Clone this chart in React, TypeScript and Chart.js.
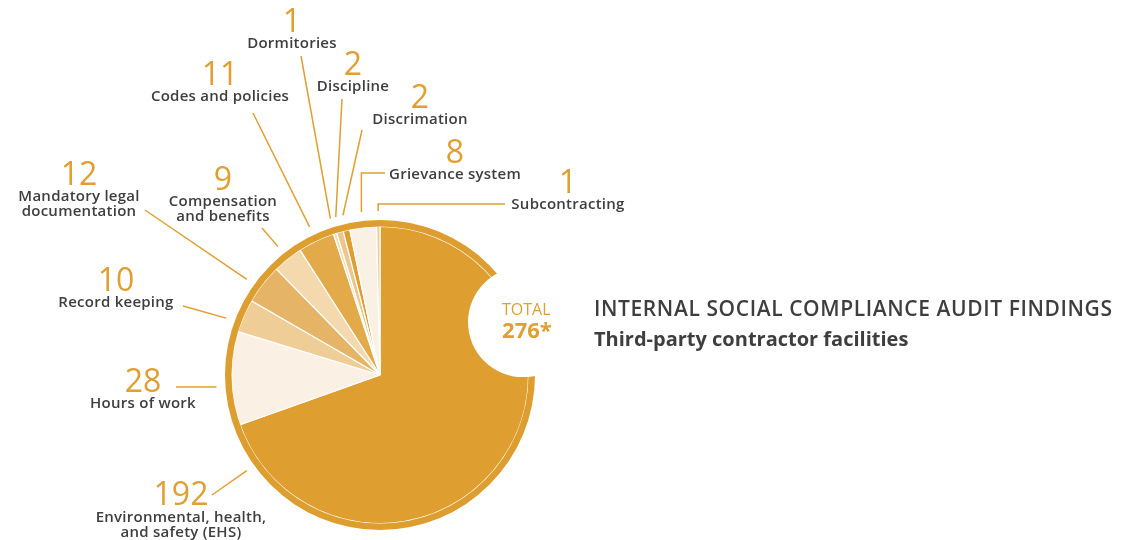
import { useEffect, useRef } from "react";
import { Chart, registerables } from "chart.js";

Chart.register(...registerables);

// ---- data ----
const categories = [
  "Environmental, health, and safety (EHS)",
  "Hours of work",
  "Record keeping",
  "Mandatory legal documentation",
  "Compensation and benefits",
  "Codes and policies",
  "Dormitories",
  "Discipline",
  "Discrimation",
  "Grievance system",
  "Subcontracting",
];
const labelLines = [
  ["Environmental, health,", "and safety (EHS)"],
  ["Hours of work"],
  ["Record keeping"],
  ["Mandatory legal", "documentation"],
  ["Compensation", "and benefits"],
  ["Codes and policies"],
  ["Dormitories"],
  ["Discipline"],
  ["Discrimation"],
  ["Grievance system"],
  ["Subcontracting"],
];
const findings = [192, 28, 10, 12, 9, 11, 1, 2, 2, 8, 1];
const totalCaption = "TOTAL";
const totalSuffix = "*";
const titleLine1 = "INTERNAL SOCIAL COMPLIANCE AUDIT FINDINGS";
const titleLine2 = "Third-party contractor facilities";

// ---- styles ----
const sliceColors = [
  "#DF9E30",
  "#FAF0E4",
  "#EECD97",
  "#E5B466",
  "#F3D9AD",
  "#E3AA4A",
  "#F2DEBB",
  "#EBC68D",
  "#DF9E30",
  "#FAF1E5",
  "#EDCB96",
];
const ringColor = "#DE9D2F";
const accent = "#E09F30";
const textColor = "#3E3E3E";
const FONT = "'Open Sans', 'Noto Sans', sans-serif";

// ---- annotation layout (label anchor, leader start, optional leader angle in degrees clockwise from north) ----
const labelLayout = [
  { x: 181, y: 505, out: [212, 495], angle: 234.3, gap: 17 },
  { x: 143, y: 392, out: [176, 387], angle: 265.8 },
  { x: 116, y: 291, out: [183, 306], angle: 290.3 },
  { x: 79, y: 185, out: [145, 210], angle: 305.7 },
  { x: 223, y: 190, out: [262, 228] },
  { x: 220, y: 85, out: [253, 113] },
  { x: 292, y: 32, out: [301, 56] },
  { x: 353, y: 75, out: [342, 99] },
  { x: 420, y: 108, out: [362, 130] },
  { x: 455, y: 163, out: [385, 173], elbow: true },
  { x: 568, y: 193, out: [505, 204], elbow: true },
];

const annotationPlugin = {
  id: "annotations",
  afterDatasetsDraw(chart: any) {
    const ctx = chart.ctx as any;
    const ring = chart.getDatasetMeta(0).data[0] as any;
    const arcs = chart.getDatasetMeta(1).data as any[];
    const cx = ring.x;
    const cy = ring.y;
    const R = ring.outerRadius;
    ctx.save();

    // white bite with total
    const ba = ((69.7 - 90) * Math.PI) / 180;
    const bx = cx + R * 0.984 * Math.cos(ba);
    const by = cy + R * 0.984 * Math.sin(ba);
    ctx.fillStyle = "#ffffff";
    ctx.beginPath();
    ctx.arc(bx, by, R * 0.355, 0, Math.PI * 2);
    ctx.fill();

    const total = findings.reduce((a, b) => a + b, 0);
    ctx.fillStyle = accent;
    ctx.textAlign = "left";
    ctx.textBaseline = "alphabetic";
    ctx.font = `400 16px ${FONT}`;
    ctx.fillText(totalCaption, bx - 21, by - 7);
    ctx.font = `700 22px ${FONT}`;
    ctx.fillText(String(total) + totalSuffix, bx - 21, by + 16);

    // leader lines and labels
    ctx.strokeStyle = accent;
    ctx.lineWidth = 1.5;
    arcs.forEach((arc, i) => {
      const L = labelLayout[i];
      const ang =
        L.angle != null
          ? ((L.angle - 90) * Math.PI) / 180
          : (arc.startAngle + arc.endAngle) / 2;
      const r = R + 9;
      const ix = cx + r * Math.cos(ang);
      const iy = cy + r * Math.sin(ang);
      ctx.beginPath();
      ctx.moveTo(L.out[0], L.out[1]);
      if (L.elbow) ctx.lineTo(ix, L.out[1]);
      ctx.lineTo(ix, iy);
      ctx.stroke();

      ctx.textAlign = "center";
      ctx.fillStyle = accent;
      ctx.letterSpacing = "0px";
      ctx.font = `400 32px ${FONT}`;
      ctx.fillText(String(findings[i]), L.x, L.y);
      ctx.fillStyle = textColor;
      ctx.font = `600 15px ${FONT}`;
      ctx.letterSpacing = "0.25px";
      const g = L.gap ?? 16;
      labelLines[i].forEach((line, k) => {
        ctx.fillText(line, L.x, L.y + g + k * 15);
      });
      ctx.letterSpacing = "0px";
    });

    // title
    ctx.textAlign = "left";
    ctx.fillStyle = textColor;
    ctx.font = `600 21px ${FONT}`;
    ctx.letterSpacing = "0.6px";
    ctx.fillText(titleLine1, 594, 316);
    ctx.letterSpacing = "0px";
    ctx.font = `700 20px ${FONT}`;
    ctx.fillText(titleLine2, 594, 346);
    ctx.restore();
  },
};

export default function App() {
  const canvasRef = useRef<HTMLCanvasElement | null>(null);

  useEffect(() => {
    const canvas = canvasRef.current;
    if (!canvas) return;
    const total = findings.reduce((a, b) => a + b, 0);
    const chart = new Chart(canvas, {
      type: "pie",
      data: {
        labels: categories,
        datasets: [
          {
            label: "ring",
            data: [total],
            backgroundColor: [ringColor],
            borderWidth: 0,
            hoverOffset: 0,
            weight: 6.5,
          } as any,
          {
            label: "Findings",
            data: findings,
            backgroundColor: sliceColors,
            borderColor: "#ffffff",
            borderWidth: 1.2,
            hoverOffset: 0,
            weight: 148.5,
          } as any,
        ],
      },
      options: {
        responsive: false,
        animation: false,
        events: [],
        radius: 155,
        layout: { padding: { left: 220, right: 599, top: 215, bottom: 5 } },
        plugins: {
          legend: { display: false },
          tooltip: { enabled: false },
          title: { display: false },
        },
      } as any,
      plugins: [annotationPlugin],
    });
    return () => chart.destroy();
  }, []);

  return (
    <div style={{ position: "fixed", left: 0, top: 0, width: 1139, height: 540, background: "#fff" }}>
      <canvas ref={canvasRef} width={1139} height={540} style={{ display: "block" }} />
    </div>
  );
}
